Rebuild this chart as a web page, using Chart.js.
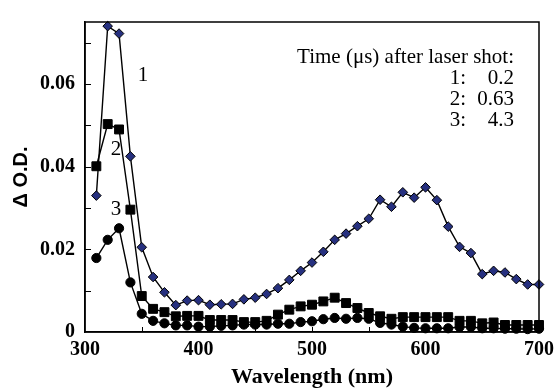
<!DOCTYPE html>
<html>
<head>
<meta charset="utf-8">
<script src="https://cdn.jsdelivr.net/npm/chart.js@4/dist/chart.umd.min.js"></script>
<style>
html,body{margin:0;padding:0;background:#fff;}
#wrap{width:560px;height:388px;position:relative;}
</style>
</head>
<body>
<div id="wrap"><canvas id="c" width="560" height="388"></canvas></div>
<script>
const wavelengths = [310,320,330,340,350,360,370,380,390,400,410,420,430,440,450,460,470,480,490,500,510,520,530,540,550,560,570,580,590,600,610,620,630,640,650,660,670,680,690,700];
const od_t1 = [0.0330,0.0740,0.0722,0.0425,0.0205,0.0133,0.0096,0.0065,0.0076,0.0077,0.0066,0.0067,0.0068,0.0079,0.0083,0.0092,0.0106,0.0126,0.0148,0.0168,0.0194,0.0223,0.0238,0.0256,0.0274,0.0320,0.0303,0.0338,0.0325,0.0350,0.0319,0.0255,0.0206,0.0191,0.0140,0.0148,0.0144,0.0128,0.0115,0.0115];
const od_t2 = [0.0401,0.0503,0.0490,0.0296,0.0087,0.0056,0.0048,0.0038,0.0039,0.0039,0.0029,0.0029,0.0029,0.0024,0.0024,0.0027,0.0042,0.0054,0.0062,0.0066,0.0074,0.0083,0.0070,0.0058,0.0046,0.0038,0.0032,0.0036,0.0036,0.0036,0.0036,0.0036,0.0027,0.0027,0.0021,0.0023,0.0017,0.0017,0.0017,0.0017];
const od_t3 = [0.0179,0.0223,0.0251,0.0120,0.0044,0.0027,0.0021,0.0016,0.0016,0.0013,0.0013,0.0015,0.0016,0.0018,0.0018,0.0018,0.0020,0.0020,0.0024,0.0026,0.0031,0.0034,0.0032,0.0034,0.0032,0.0022,0.0018,0.0013,0.0010,0.0009,0.0009,0.0009,0.0012,0.0012,0.0009,0.0009,0.0008,0.0008,0.0007,0.0008];
const xTicks = [300,400,500,600,700];
const yTicks = [0,0.02,0.04,0.06];
const legendTitle = "Time (\u03bcs) after laser shot:";
const legendKeys = ["1:","2:","3:"];
const legendTimes = ["0.2","0.63","4.3"];
const curveLabels = ["1","2","3"];

const SERIF = '"Liberation Serif", "Times New Roman", serif';
const SANS = '"Liberation Sans", Arial, sans-serif';

function pts(ys){ return wavelengths.map((w,i)=>({x:w,y:ys[i]})); }

const decor = {
  id:'decor',
  afterDraw(chart){
    const ctx = chart.ctx, a = chart.chartArea;
    const xs = chart.scales.x, ys = chart.scales.y;
    ctx.save();
    ctx.strokeStyle = '#000';
    ctx.lineWidth = 1.5;
    ctx.strokeRect(a.left, a.top, a.right - a.left, a.bottom - a.top);
    ctx.lineWidth = 1;
    ctx.beginPath();
    for (let v = 350; v < 700; v += 50) {
      const px = Math.round(xs.getPixelForValue(v)) + 0.5;
      ctx.moveTo(px, a.bottom); ctx.lineTo(px, a.bottom - 5);
    }
    for (let k = 1; k <= 7; k++) {
      const py = Math.round(ys.getPixelForValue(k*0.01)) + 0.5;
      ctx.moveTo(a.left, py); ctx.lineTo(a.left + 6, py);
    }
    ctx.stroke();
    // legend text
    ctx.fillStyle = '#000';
    ctx.font = '21px ' + SERIF;
    ctx.textBaseline = 'middle';
    ctx.textAlign = 'right';
    ctx.fillText(legendTitle, 514, 57);
    for (let i = 0; i < 3; i++) {
      ctx.fillText(legendKeys[i], 466, 78 + i*21);
      ctx.fillText(legendTimes[i], 514, 78 + i*21);
    }
    // curve labels
    ctx.textAlign = 'center';
    const lx = [143,116,116], ly = [75,149,209];
    for (let i = 0; i < 3; i++) ctx.fillText(curveLabels[i], lx[i], ly[i]);
    ctx.restore();
  }
};

new Chart(document.getElementById('c'), {
  type: 'line',
  data: {
    datasets: [
      { label:'3', data: pts(od_t3), borderColor:'#000', borderWidth:1.4, pointStyle:'circle', pointRadius:4.6, pointBackgroundColor:'#000', pointBorderColor:'#000', pointBorderWidth:1, tension:0, clip:false },
      { label:'2', data: pts(od_t2), borderColor:'#000', borderWidth:1.4, pointStyle:'rect', pointRadius:6.3, pointBackgroundColor:'#000', pointBorderColor:'#000', pointBorderWidth:1, tension:0, clip:false },
      { label:'1', data: pts(od_t1), borderColor:'#000', borderWidth:1.4, pointStyle:'rectRot', pointRadius:4.8, pointBackgroundColor:'#26307f', pointBorderColor:'#000', pointBorderWidth:1, tension:0, clip:false }
    ]
  },
  options: {
    responsive:false, animation:false, devicePixelRatio:1,
    layout:{ padding:{ left:9, right:15, top:12, bottom:0 } },
    plugins:{ legend:{display:false}, tooltip:{enabled:false} },
    scales:{
      x:{
        type:'linear', min:300, max:700,
        afterBuildTicks(s){ s.ticks = xTicks.map(v=>({value:v})); },
        afterFit(s){ s.height = 388 - 332; },
        grid:{ display:false, drawTicks:false },
        border:{ display:true, color:'#000', width:1.5 },
        ticks:{ color:'#000', padding:6, maxRotation:0, autoSkip:false, font:{ family:SERIF, size:20, weight:'bold' } },
        title:{ display:true, text:'Wavelength (nm)', color:'#000', padding:{top:0,bottom:-3}, font:{ family:SERIF, size:22, weight:'bold' } }
      },
      y:{
        min:0, max:0.075,
        afterBuildTicks(s){ s.ticks = yTicks.map(v=>({value:v})); },
        afterFit(s){ s.width = 85 - 9; },
        grid:{ display:false, drawTicks:false },
        border:{ display:true, color:'#000', width:1.5 },
        ticks:{ color:'#000', padding:10, font:{ family:SERIF, size:20, weight:'bold' }, callback:(v)=> v===0 ? '0' : v.toFixed(2) },
        title:{ display:true, text:'\u0394 O.D.', color:'#000', padding:0, font:{ family:SANS, size:20, weight:'bold' } }
      }
    }
  },
  plugins:[decor]
});
</script>
</body>
</html>
